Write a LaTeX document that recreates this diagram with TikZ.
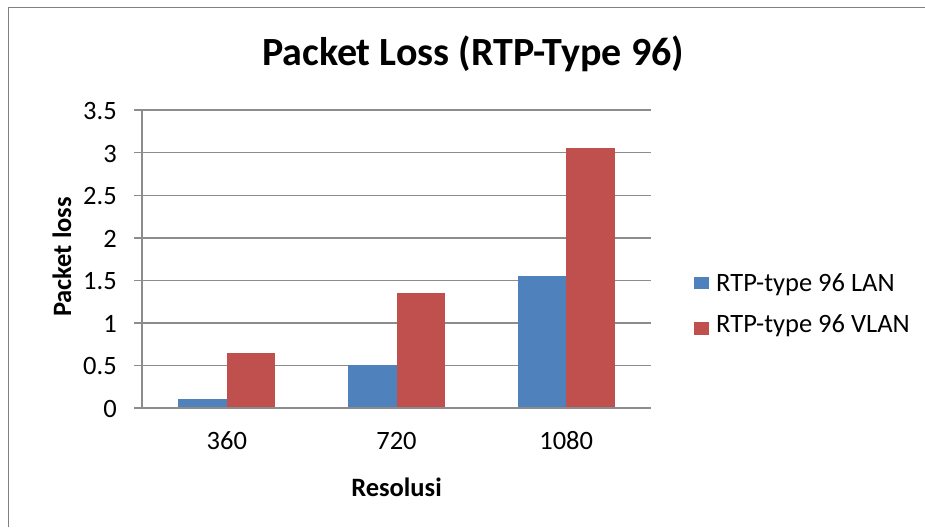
\documentclass[tikz,border=0pt]{standalone}
\usepackage{fontspec}
\setmainfont{Carlito}
\definecolor{lanblue}{HTML}{4F81BD}
\definecolor{vlanred}{HTML}{C0504D}
\definecolor{gridgray}{HTML}{8C8C8C}
\definecolor{framegray}{HTML}{808080}
\begin{document}
\begin{tikzpicture}[x=1pt,y=-1pt,
  grid/.style={draw=gridgray,line width=1.5pt},
  ticklabel/.style={font=\fontsize{26.5}{26.5}\selectfont,inner sep=0pt},
  axistitle/.style={font=\bfseries\fontsize{26.5}{26.5}\selectfont,inner sep=0pt},
  lanbar/.style={fill=lanblue,draw=none},
  vlanbar/.style={fill=vlanred,draw=none},
  legtext/.style={font=\fontsize{26.5}{26.5}\selectfont,inner sep=0pt,anchor=base west}]
  \useasboundingbox (0,0) rectangle (925,527);
  % chart frame (open to the right and bottom)
  \draw[framegray,line width=1.5pt] (8.5,527) -- (8.5,7.5) -- (925,7.5);
  % title
  \node[font=\bfseries\fontsize{40}{40}\selectfont,inner sep=0pt] (title) at (473,54) {Packet Loss (RTP-Type 96)};
  % horizontal gridlines and y tick labels
  \foreach \v/\t in {0/0,0.5/0.5,1/1,1.5/1.5,2/2,2.5/2.5,3/3,3.5/3.5}{
    \draw[grid] (134,{408-85.1*\v}) -- (651,{408-85.1*\v});
    \node[ticklabel,anchor=east] at (117,{409-85.1*\v}) {\t};
  }
  % y axis
  \draw[grid] (142,110.15) -- (142,408);
  % bars: categories 169.7 wide, bars 48.5 wide
  \foreach \c/\lab/\a/\b [count=\i] in {226.8/360/0.1/0.65, 396.5/720/0.5/1.35, 566.2/1080/1.55/3.05}{
    \fill[lanbar] (\c-48.5,408) rectangle (\c,{408-85.1*\a});
    \fill[vlanbar] (\c,408) rectangle (\c+48.5,{408-85.1*\b});
    \node[ticklabel] (cat\i) at (\c,441) {\lab};
  }
  \draw[grid] (134,408) -- (651,408);
  % axis titles
  \node[axistitle] (xtitle) at (396.5,487) {Resolusi};
  \node[axistitle,rotate=90] (ytitle) at (62,257) {Packet loss};
  % legend
  \fill[lanblue] (694,276.5) rectangle (709,288.5);
  \node[legtext] (leglan) at (716,291) {RTP-type 96 LAN};
  \fill[vlanred] (694,322) rectangle (709,335);
  \node[legtext] (legvlan) at (716,332.5) {RTP-type 96 VLAN};
\end{tikzpicture}
\end{document}
